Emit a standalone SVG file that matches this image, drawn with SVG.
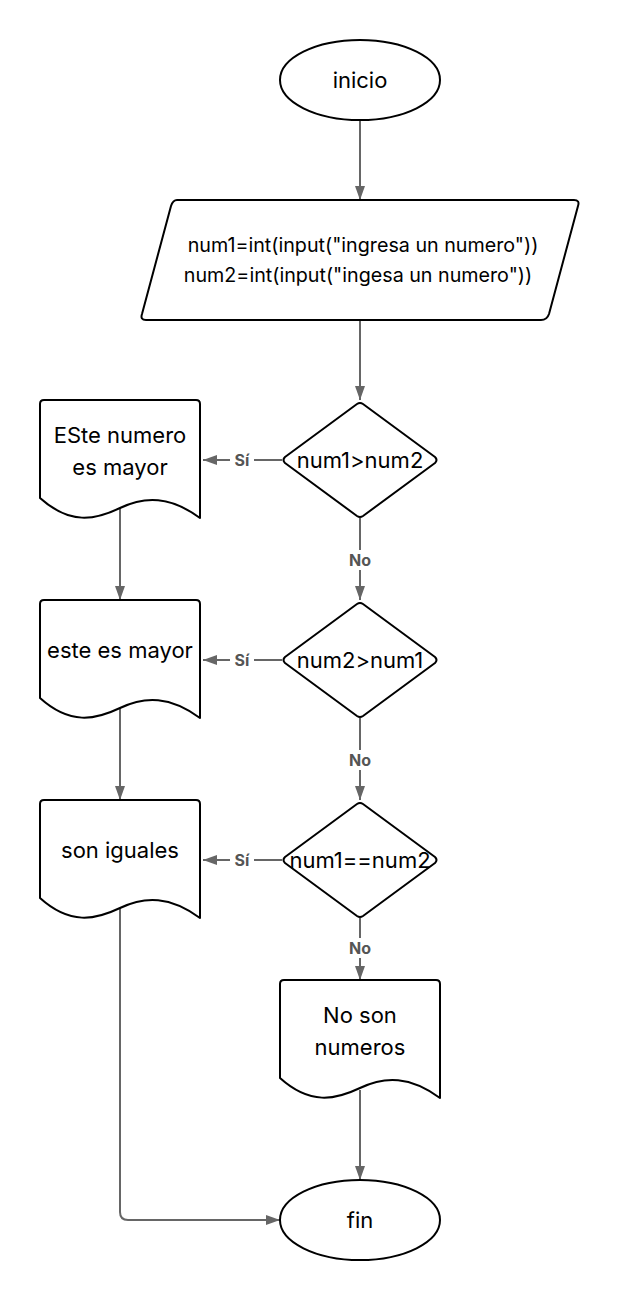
<svg xmlns="http://www.w3.org/2000/svg" width="620" height="1300" viewBox="0 0 620 1300">
<defs>
<marker id="arr" viewBox="0 0 14 10" refX="14" refY="5" markerWidth="14" markerHeight="10" markerUnits="userSpaceOnUse" orient="auto">
<path d="M0,0 L14,5 L0,10 Z" fill="#666"/>
</marker>
<style>
.shape{fill:#fff;stroke:#000;stroke-width:2;stroke-linejoin:round}
.t{font-family:Inter,"Noto Sans",sans-serif;font-size:22px;fill:#000;text-anchor:middle;dominant-baseline:central}
.c{fill:none;stroke:#666;stroke-width:2}
.lbl{font-family:Inter,"Noto Sans",sans-serif;font-size:16px;font-weight:bold;fill:#555;text-anchor:middle;dominant-baseline:central}
.bg{fill:#fff}
</style>
</defs>
<rect width="620" height="1300" fill="#fff"/>
<g id="connectors">
<path class="c" d="M360,120 V200" marker-end="url(#arr)"/>
<path class="c" d="M360,320 V400" marker-end="url(#arr)"/>
<path class="c" d="M282,460 H203" marker-end="url(#arr)"/>
<path class="c" d="M360,518 V600" marker-end="url(#arr)"/>
<path class="c" d="M282,660 H203" marker-end="url(#arr)"/>
<path class="c" d="M360,718 V800" marker-end="url(#arr)"/>
<path class="c" d="M282,860 H203" marker-end="url(#arr)"/>
<path class="c" d="M360,918 V980" marker-end="url(#arr)"/>
<path class="c" d="M120,508 V600" marker-end="url(#arr)"/>
<path class="c" d="M120,708 V800" marker-end="url(#arr)"/>
<path class="c" d="M360,1090 V1180" marker-end="url(#arr)"/>
<path class="c" d="M120,908 V1212 Q120,1220 128,1220 H280" marker-end="url(#arr)"/>
<rect class="bg" x="230" y="450" width="24" height="20"/>
<text class="lbl" x="242" y="460">Sí</text>
<rect class="bg" x="230" y="650" width="24" height="20"/>
<text class="lbl" x="242" y="660">Sí</text>
<rect class="bg" x="230" y="850" width="24" height="20"/>
<text class="lbl" x="242" y="860">Sí</text>
<rect class="bg" x="345" y="550" width="30" height="20"/>
<text class="lbl" x="360" y="560">No</text>
<rect class="bg" x="345" y="750" width="30" height="20"/>
<text class="lbl" x="360" y="760">No</text>
<rect class="bg" x="345" y="938" width="30" height="20"/>
<text class="lbl" x="360" y="948">No</text>
</g>
<g id="inicio">
<ellipse class="shape" cx="360" cy="80" rx="80" ry="40"/>
<text class="t" x="360" y="80">inicio</text>
</g>
<g id="input">
<path class="shape" d="M177,200 H574 Q580,200 578,206 L549,314 Q547,320 541,320 H146 Q140,320 142,314 L171,206 Q173,200 177,200 Z"/>
<text class="t" x="363" y="245" style="font-size:19.7px">num1=int(input("ingresa un numero"))</text>
<text class="t" x="358" y="275" style="font-size:19.7px">num2=int(input("ingesa un numero"))</text>
</g>
<g id="dec1">
<path class="shape" d="M357,404 Q360,402 363,404 L435,457 Q438,460 435,463 L363,516 Q360,518 357,516 L285,463 Q282,460 285,457 Z"/>
<text class="t" x="360" y="460">num1&gt;num2</text>
</g>
<g id="doc1">
<path class="shape" d="M44,400 H196 Q200,400 200,404 V518 C170,496 145,496 120,508 C95,520 70,525 40,498 V404 Q40,400 44,400 Z"/>
<text class="t" x="120" y="435">ESte numero</text>
<text class="t" x="120" y="467">es mayor</text>
</g>
<g id="dec2">
<path class="shape" d="M357,604 Q360,602 363,604 L435,657 Q438,660 435,663 L363,716 Q360,718 357,716 L285,663 Q282,660 285,657 Z"/>
<text class="t" x="360" y="660">num2&gt;num1</text>
</g>
<g id="doc2">
<path class="shape" d="M44,600 H196 Q200,600 200,604 V718 C170,696 145,696 120,708 C95,720 70,725 40,698 V604 Q40,600 44,600 Z"/>
<text class="t" x="120" y="650">este es mayor</text>
</g>
<g id="dec3">
<path class="shape" d="M357,804 Q360,802 363,804 L435,857 Q438,860 435,863 L363,916 Q360,918 357,916 L285,863 Q282,860 285,857 Z"/>
<text class="t" x="360" y="860">num1==num2</text>
</g>
<g id="doc3">
<path class="shape" d="M44,800 H196 Q200,800 200,804 V918 C170,896 145,896 120,908 C95,920 70,925 40,898 V804 Q40,800 44,800 Z"/>
<text class="t" x="120" y="850">son iguales</text>
</g>
<g id="doc4">
<path class="shape" d="M284,980 H436 Q440,980 440,984 V1098 C410,1076 385,1076 360,1088 C335,1100 310,1105 280,1078 V984 Q280,980 284,980 Z"/>
<text class="t" x="360" y="1015">No son</text>
<text class="t" x="360" y="1047">numeros</text>
</g>
<g id="fin">
<ellipse class="shape" cx="360" cy="1220" rx="80" ry="40"/>
<text class="t" x="360" y="1220">fin</text>
</g>
</svg>
